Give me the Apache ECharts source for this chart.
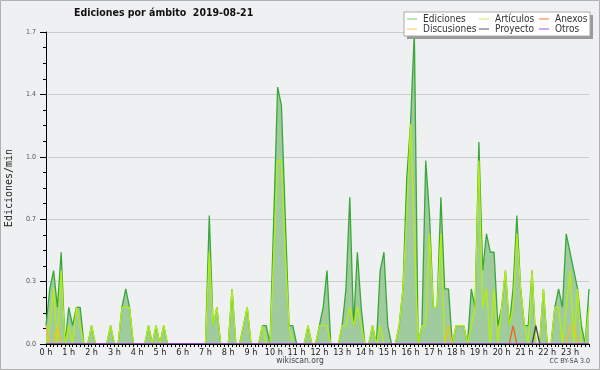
<!DOCTYPE html>
<html><head><meta charset="utf-8">
<script src="https://cdn.jsdelivr.net/npm/echarts@6/dist/echarts.min.js"></script>
<style>html,body{margin:0;padding:0;background:#eff0f1}#c{width:600px;height:370px}</style>
</head><body><div id="c"></div>
<script>
const hourLabels = ["0 h","1 h","2 h","3 h","4 h","5 h","6 h","7 h","8 h","9 h","10 h","11 h","12 h","13 h","14 h","15 h","16 h","17 h","18 h","19 h","20 h","21 h","22 h","23 h"];
const yTicks = [0, 0.34, 0.68, 1.02, 1.36, 1.7];

const ediciones = [
0.1,0.3,0.4,0.2,0.5,0,
0.2,0.1,0.2,0.2,0,0,
0.1,0,0,0,0,0.1,
0,0,0.2,0.3,0.2,0,
0,0,0,0.1,0,0.1,
0,0.1,0,0,0,0,
0,0,0,0,0,0,
0,0.7,0.1,0.2,0,0,
0,0.3,0,0,0.1,0.2,
0,0,0,0.1,0.1,0,
0.7,1.4,1.3,0.7,0.1,0.1,
0,0,0,0.1,0,0,
0.1,0.2,0.4,0,0,0,
0.1,0.3,0.8,0.1,0.5,0.2,
0,0,0.1,0,0.4,0.5,
0.1,0,0,0.1,0.3,0.9,
1.2,1.7,0,0.1,1.0,0.7,
0.2,0.2,0.8,0.3,0.3,0,
0.1,0.1,0.1,0,0.3,0.2,
1.1,0.4,0.6,0.5,0.5,0.1,
0.2,0.4,0.1,0.3,0.7,0.3,
0.1,0.1,0.4,0,0,0.3,
0,0,0.2,0.3,0.2,0.6,
0.5,0.4,0.3,0.1,0,0.3];

const articulos = [
0,0.1,0.3,0,0.4,0,
0.1,0,0.2,0.1,0,0,
0.1,0,0,0,0,0.1,
0,0,0.2,0.2,0.2,0,
0,0,0,0.1,0,0.1,
0,0.1,0,0,0,0,
0,0,0,0,0,0,
0,0.5,0.1,0.2,0,0,
0,0.3,0,0,0.1,0.2,
0,0,0,0.1,0,0,
0.5,1.0,1.0,0.5,0.1,0,
0,0,0,0.1,0,0,
0.1,0.1,0.1,0,0,0,
0.1,0.1,0.2,0.1,0.2,0.1,
0,0,0.1,0,0.1,0,
0,0,0,0.1,0.3,0.7,
1.2,0.6,0,0.1,0.1,0.6,
0.2,0.2,0.6,0,0,0,
0.1,0.1,0.1,0,0.1,0.2,
1.0,0.2,0.3,0,0.3,0,
0.2,0.4,0.1,0.2,0.6,0.3,
0.1,0,0.4,0,0,0.3,
0,0,0.2,0.2,0,0.2,
0.4,0,0.3,0,0,0.2];

const discusiones = [
0.1,0,0,0.1,0,0, 0,0,0,0,0,0, 0,0,0,0,0,0, 0,0,0,0,0,0,
0,0,0,0,0,0, 0,0,0,0,0,0, 0,0,0,0,0,0, 0,0,0,0,0,0,
0,0,0,0,0,0, 0,0,0,0,0,0, 0,0,0,0,0,0, 0,0,0,0,0,0,
0,0,0,0,0,0, 0,0,0,0,0,0, 0,0,0,0,0,0, 0,0,0,0,0,0,
0,0,0,0,0,0, 0,0,0,0,0.1,0, 0,0,0,0,0,0, 0,0,0,0,0,0,
0,0,0,0,0,0, 0,0,0,0,0,0, 0,0,0,0,0,0, 0.1,0.1,0,0,0,0];

const anexos = [
0,0,0,0,0,0, 0,0,0,0,0,0, 0,0,0,0,0,0, 0,0,0,0,0,0,
0,0,0,0,0,0, 0,0,0,0,0,0, 0,0,0,0,0,0, 0,0,0,0,0,0,
0,0,0,0,0,0, 0,0,0,0,0,0, 0,0,0,0,0,0, 0,0,0,0,0,0,
0,0,0,0,0,0, 0,0,0,0,0,0, 0,0,0,0,0,0, 0,0,0,0,0,0,
0,0,0,0,0,0, 0,0,0,0,0,0, 0,0,0,0,0,0, 0,0,0,0,0,0,
0,0,0,0.1,0,0, 0,0,0,0,0,0, 0,0,0,0,0,0, 0,0,0,0,0,0];

const proyecto = [
0,0,0,0,0,0, 0,0,0,0,0,0, 0,0,0,0,0,0, 0,0,0,0,0,0,
0,0,0,0,0,0, 0,0,0,0,0,0, 0,0,0,0,0,0, 0,0,0,0,0,0,
0,0,0,0,0,0, 0,0,0,0,0,0, 0,0,0,0,0,0, 0,0,0,0,0,0,
0,0,0,0,0,0, 0,0,0,0,0,0, 0,0,0,0,0,0, 0,0,0,0,0,0,
0,0,0,0,0,0, 0,0,0,0,0,0, 0,0,0,0,0,0, 0,0,0,0,0,0,
0,0,0,0,0,0, 0,0,0,0.1,0,0, 0,0,0,0,0,0, 0,0,0,0,0,0];

const otros = [
0,0,0,0,0,0, 0,0,0,0,0,0, 0,0,0,0,0,0, 0,0,0,0,0,0,
0,0,0,0,0,0, 0,0,0,0,0,0, 0,0,0,0,0,0, 0,0,0,0,0,0,
0,0,0,0,0,0, 0,0,0,0,0,0, 0,0,0,0,0,0, 0,0,0,0,0,0,
0,0,0,0,0,0, 0,0,0,0,0,0, 0,0,0,0,0,0, 0,0,0,0,0,0,
0,0,0,0,0,0, 0,0,0,0,0,0, 0,0,0,0,0,0, 0,0,0,0,0,0,
0,0,0,0,0,0, 0,0,0,0,0,0, 0,0,0,0,0,0, 0,0,0,0,0,0];

const categories = [];
for (let h = 0; h < 24; h++) for (let m = 0; m < 6; m++) categories.push(h + ':' + m + '0');

const FONT = 'DejaVu Sans Condensed';
const chart = echarts.init(document.getElementById('c'), null, {renderer: 'canvas'});

function mkLine(name, data, lineColor, legendColor, extra) {
  return Object.assign({
    name: name, type: 'line', data: data, symbol: 'none', smooth: false,
    lineStyle: {color: lineColor, width: 1.3},
    itemStyle: {color: legendColor},
    emphasis: {disabled: true}, animation: false
  }, extra || {});
}
const legendBase = {
  orient: 'vertical', icon: 'rect', itemWidth: 10, itemHeight: 1, itemGap: 0,
  selectedMode: false, padding: 0, z: 30,
  textStyle: {fontFamily: FONT, fontSize: 10, color: '#333', lineHeight: 10, padding: [0, 0, 0, 1]}
};

chart.setOption({
  backgroundColor: '#eff0f1',
  animation: false,
  title: {
    text: 'Ediciones por ámbito  2019-08-21', left: 69, top: 3,
    textStyle: {fontFamily: FONT, fontWeight: 'bold', fontSize: 10.5, color: '#111'}
  },
  grid: {left: 46, right: 11, top: 32, bottom: 26, containLabel: false, outerBoundsMode: 'none'},
  xAxis: {
    type: 'category', data: categories, boundaryGap: false, z: 5,
    axisLine: {lineStyle: {color: '#000', width: 1}},
    axisTick: {interval: 0, length: 3, lineStyle: {color: '#000'}},
    axisLabel: {
      interval: 5, margin: 4, fontFamily: FONT, fontSize: 9, color: '#222',
      formatter: (v, i) => hourLabels[Math.floor(i / 6)]
    },
    splitLine: {show: false}
  },
  yAxis: {
    type: 'value', min: yTicks[0], max: yTicks[yTicks.length - 1], interval: yTicks[1],
    name: 'Ediciones/min', nameLocation: 'middle', nameGap: 32,
    nameTextStyle: {fontFamily: 'DejaVu Sans Mono', fontSize: 10, color: '#222'},
    axisLine: {show: true, lineStyle: {color: '#000', width: 1}},
    axisTick: {show: true, length: 6, lineStyle: {color: '#000'}},
    minorTick: {show: true, splitNumber: 4, length: 3, lineStyle: {color: '#000'}},
    axisLabel: {margin: 10, fontFamily: FONT, fontSize: 7, color: '#555', formatter: v => v.toFixed(1)},
    splitLine: {lineStyle: {color: '#cccccc', width: 1}}
  },
  legend: [
    Object.assign({left: 407, top: 14, data: ['Ediciones', 'Discusiones']}, legendBase),
    Object.assign({left: 479, top: 14, data: ['Artículos', 'Proyecto']}, legendBase),
    Object.assign({left: 539, top: 14, data: ['Anexos', 'Otros']}, legendBase)
  ],
  graphic: [
    {type: 'rect', z: 15, shape: {x: 407, y: 15, width: 186, height: 24}, style: {fill: '#999'}},
    {type: 'rect', z: 16, shape: {x: 404, y: 12, width: 186, height: 24}, style: {fill: '#fff', stroke: '#aaa', lineWidth: 1}},
    {type: 'text', left: 'center', top: 356, style: {text: 'wikiscan.org', font: '8.5px "DejaVu Sans Condensed"', fill: '#444'}},
    {type: 'text', right: 10, top: 358, style: {text: 'CC BY-SA 3.0', font: '7px "DejaVu Sans Condensed"', fill: '#444'}},
    {type: 'rect', z: 100, shape: {x: 0.5, y: 0.5, width: 599, height: 369}, style: {fill: 'none', stroke: '#b0b0b0', lineWidth: 1}}
  ],
  series: [
    mkLine('Ediciones', ediciones, '#38a838', '#77cc77', {areaStyle: {color: '#9fcb9f', opacity: 1}}),
    mkLine('Artículos', articulos, '#b4ee10', '#ccee55'),
    mkLine('Discusiones', discusiones, '#f0c020', '#f8cc44'),
    mkLine('Anexos', anexos, '#ee6622', '#ee7733'),
    mkLine('Proyecto', proyecto, '#444444', '#555555'),
    mkLine('Otros', otros, '#9944ee', '#9955ee')
  ]
});
</script></body></html>
